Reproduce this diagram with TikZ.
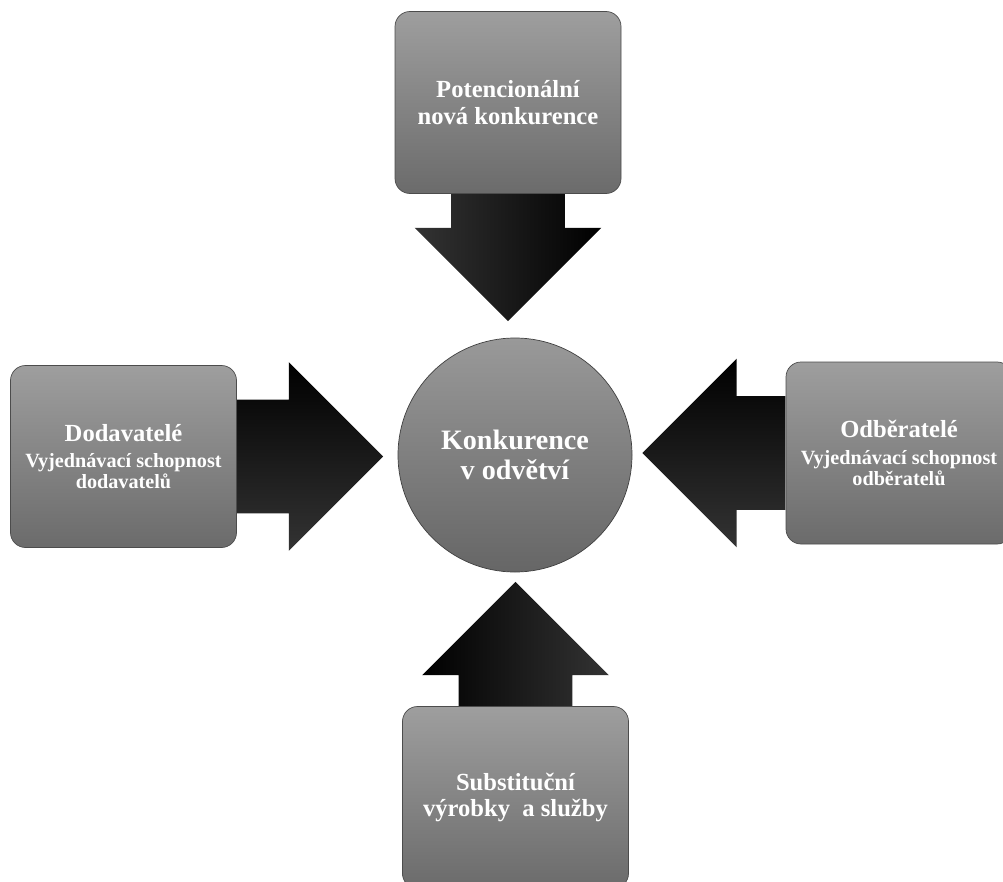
\documentclass[tikz,border=0pt]{standalone}
\usepackage{fontspec}
\setmainfont{Liberation Serif}
\usetikzlibrary{shapes.arrows}

\tikzset{
    bigarrow/.style={single arrow,draw=none,inner xsep=0pt,inner ysep=1.13cm,
        single arrow head extend=0.75cm},
    bigarrowv/.style={bigarrow,inner xsep=1.13cm,inner ysep=0pt,
        single arrow head extend=0.73cm},
    bigtext/.style={font=\bfseries\fontsize{14}{15}\selectfont}
}

\begin{document}
\begin{tikzpicture}
\useasboundingbox (0,0) rectangle (20.06,-17.64);

\begin{scope}[every node/.style={rectangle,rounded corners=0.3cm,draw=black!70,
        top color=black!38,bottom color=black!58,text=white,align=center,
        font=\bfseries\fontsize{11.5}{12}\selectfont,
        minimum width=4.52cm,minimum height=3.64cm,inner sep=0pt}]
    \node (P)[bigtext] at (10.16,-2.05) {Potencionální\\nová konkurence};
    \node (D) at (2.47,-9.13) {{\fontsize{14}{15}\selectfont Dodavatelé}\\[3pt]Vyjednávací schopnost\\dodavatelů};
    \node (O) at (17.98,-9.06) {{\fontsize{14}{15}\selectfont Odběratelé}\\[3pt]Vyjednávací schopnost\\odběratelů};
    \node (S)[bigtext] at (10.31,-15.95) {Substituční\\výrobky~ a služby};
\end{scope}

\node (K)[circle,draw=black!75,top color=black!40,bottom color=black!60,text=white,
    minimum size=4.68cm,align=center,font=\bfseries\fontsize{16}{17}\selectfont]
    at (10.3,-9.1) {Konkurence\\v odvětví};

\node (aP)[bigarrowv,shape border rotate=270,minimum height=2.54cm,anchor=tail,
    left color=black!80,right color=black] at (P.south) {};
\node (aD)[bigarrow,shape border rotate=0,minimum height=2.92cm,anchor=tail,
    top color=black,bottom color=black!80] at (D.east) {};
\node (aO)[bigarrow,shape border rotate=180,minimum height=2.86cm,anchor=tail,
    top color=black,bottom color=black!80] at (O.west) {};
\node (aS)[bigarrowv,shape border rotate=90,minimum height=2.48cm,anchor=tail,
    left color=black,right color=black!80] at (S.north) {};
\end{tikzpicture}
\end{document}
